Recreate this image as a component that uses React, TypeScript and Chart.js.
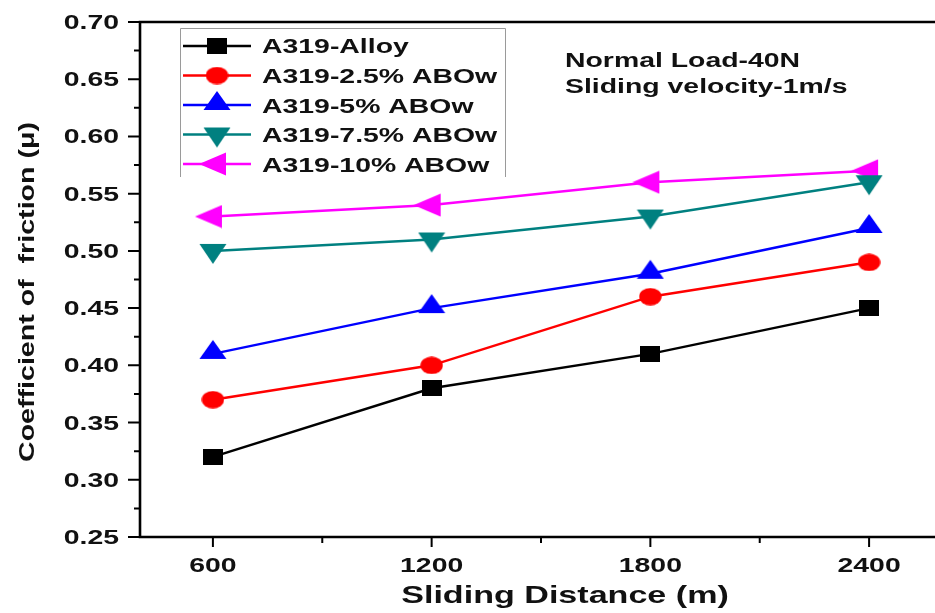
import { useEffect, useRef } from 'react';
import { Chart, registerables } from 'chart.js';

Chart.register(...registerables);

// ---------- data ----------
const DISTANCES = [600, 1200, 1800, 2400];
const SERIES_NAMES = ['A319-Alloy', 'A319-2.5% ABOw', 'A319-5% ABOw', 'A319-7.5% ABOw', 'A319-10% ABOw'];
const ALLOY = [0.32, 0.38, 0.41, 0.45];
const ABOW_2_5 = [0.37, 0.40, 0.46, 0.49];
const ABOW_5 = [0.41, 0.45, 0.48, 0.52];
const ABOW_7_5 = [0.50, 0.51, 0.53, 0.56];
const ABOW_10 = [0.53, 0.54, 0.56, 0.57];
const SERIES_VALUES = [ALLOY, ABOW_2_5, ABOW_5, ABOW_7_5, ABOW_10];
const SERIES_COLORS = ['#000000', '#ff0000', '#0000ff', '#008080', '#ff00ff'];
const SERIES_SHAPES = ['square', 'circle', 'up', 'down', 'left'];

const X_MAJOR = [600, 1200, 1800, 2400];
const X_MINOR = [900, 1500, 2100];
const X_LABELS = ['600', '1200', '1800', '2400'];
const Y_MAJOR = [0.25, 0.30, 0.35, 0.40, 0.45, 0.50, 0.55, 0.60, 0.65, 0.70];
const Y_MINOR = [0.275, 0.325, 0.375, 0.425, 0.475, 0.525, 0.575, 0.625, 0.675];
const Y_LABELS = ['0.25', '0.30', '0.35', '0.40', '0.45', '0.50', '0.55', '0.60', '0.65', '0.70'];

const X_TITLE = 'Sliding Distance (m)';
const Y_TITLE = 'Coefficient of  friction (\u03bc)';
const NOTE_LINES = ['Normal Load-40N', 'Sliding velocity-1m/s'];

// ---------- styling ----------
const FONT = '"Liberation Sans", Arial, Helvetica, sans-serif';
const SX = 1.42; // horizontal stretch of the reference image

function markerCanvas(shape: string, color: string): HTMLCanvasElement {
  const c = document.createElement('canvas');
  let w = 20, h = 16;
  if (shape === 'circle') { w = 23; h = 18; }
  if (shape === 'up') { w = 28; h = 30; }
  if (shape === 'down') { w = 28; h = 28; }
  if (shape === 'left') { w = 38; h = 24; }
  c.width = w; c.height = h;
  const g = c.getContext('2d')!;
  g.fillStyle = color;
  g.beginPath();
  if (shape === 'square') {
    g.rect(0, 0, w, h);
  } else if (shape === 'circle') {
    g.ellipse(w / 2, h / 2, w / 2 - 0.3, h / 2 - 0.3, 0, 0, Math.PI * 2);
  } else if (shape === 'up') {
    g.moveTo(14, 1); g.lineTo(27.5, 20); g.lineTo(0.5, 20); g.closePath();
  } else if (shape === 'down') {
    g.moveTo(0.5, 7); g.lineTo(27.5, 7); g.lineTo(14, 27); g.closePath();
  } else if (shape === 'left') {
    g.moveTo(1, 12); g.lineTo(28, 0.5); g.lineTo(28, 23.5); g.closePath();
  }
  g.fill();
  return c;
}

function stretchedText(ctx: CanvasRenderingContext2D, text: string, x: number, y: number, font: string, align: CanvasTextAlign) {
  ctx.save();
  ctx.translate(x, y);
  ctx.scale(SX, 1);
  ctx.font = font;
  ctx.textAlign = align;
  ctx.textBaseline = 'alphabetic';
  ctx.fillStyle = '#111111';
  ctx.fillText(text, 0, 0);
  ctx.restore();
}

const axesPlugin = {
  id: 'originAxes',
  afterDatasetsDraw(chart: any) {
    const ctx: CanvasRenderingContext2D = chart.ctx;
    const { left, right, top, bottom } = chart.chartArea;
    const xs = chart.scales.x;
    const ys = chart.scales.y;
    ctx.save();
    ctx.strokeStyle = '#000';
    ctx.lineCap = 'butt';
    // frame
    ctx.lineWidth = 2.6;
    ctx.beginPath();
    ctx.moveTo(left, top); ctx.lineTo(left, bottom + 1.3);
    ctx.moveTo(left - 1.3, bottom); ctx.lineTo(right, bottom);
    ctx.moveTo(left - 1.3, top); ctx.lineTo(right, top);
    ctx.stroke();
    // ticks
    ctx.lineWidth = 2;
    ctx.beginPath();
    Y_MAJOR.forEach((v) => { const y = ys.getPixelForValue(v); ctx.moveTo(left - 12, y); ctx.lineTo(left, y); });
    Y_MINOR.forEach((v) => { const y = ys.getPixelForValue(v); ctx.moveTo(left - 6, y); ctx.lineTo(left, y); });
    X_MAJOR.forEach((v) => { const x = xs.getPixelForValue(v); ctx.moveTo(x, bottom); ctx.lineTo(x, bottom + 10); });
    X_MINOR.forEach((v) => { const x = xs.getPixelForValue(v); ctx.moveTo(x, bottom); ctx.lineTo(x, bottom + 6); });
    ctx.stroke();
    ctx.restore();
  },
  afterDraw(chart: any) {
    const ctx: CanvasRenderingContext2D = chart.ctx;
    const { bottom } = chart.chartArea;
    const xs = chart.scales.x;
    const ys = chart.scales.y;
    const tickFont = `bold 20px ${FONT}`;
    Y_MAJOR.forEach((v, i) => stretchedText(ctx, Y_LABELS[i], 119, ys.getPixelForValue(v) + 7, tickFont, 'right'));
    X_MAJOR.forEach((v, i) => stretchedText(ctx, X_LABELS[i], xs.getPixelForValue(v), bottom + 35, tickFont, 'center'));
    // x title
    stretchedText(ctx, X_TITLE, 565, 603, `bold 24px ${FONT}`, 'center');
    // y title (rotated)
    ctx.save();
    ctx.translate(34, 292);
    ctx.rotate(-Math.PI / 2);
    ctx.scale(1.3, 1.0);
    ctx.font = `bold 22px ${FONT}`;
    ctx.textAlign = 'center';
    ctx.textBaseline = 'alphabetic';
    ctx.fillStyle = '#111111';
    ctx.fillText(Y_TITLE, 0, 0);
    ctx.restore();
    // annotation
    NOTE_LINES.forEach((t, i) => stretchedText(ctx, t, 565, 67 + i * 26, `bold 20px ${FONT}`, 'left'));
    // legend
    ctx.save();
    ctx.strokeStyle = '#9a9a9a';
    ctx.lineWidth = 1;
    ctx.beginPath();
    ctx.moveTo(180.5, 177); ctx.lineTo(180.5, 28.5); ctx.lineTo(505.5, 28.5); ctx.lineTo(505.5, 177);
    ctx.stroke();
    ctx.restore();
    const rowY = [46, 75.5, 105, 134.5, 164];
    chart.data.datasets.forEach((ds: any, i: number) => {
      const y = rowY[i];
      ctx.save();
      ctx.strokeStyle = ds.borderColor;
      ctx.lineWidth = 2.5;
      ctx.beginPath();
      ctx.moveTo(183, y); ctx.lineTo(251, y);
      ctx.stroke();
      const img: HTMLCanvasElement = ds.pointStyle;
      ctx.drawImage(img, 217 - img.width / 2, y - img.height / 2);
      ctx.restore();
      stretchedText(ctx, ds.label, 262, [53, 83, 113, 142, 172][i], `bold 20px ${FONT}`, 'left');
    });
  },
};

export default function App() {
  const ref = useRef<HTMLCanvasElement | null>(null);
  useEffect(() => {
    if (!ref.current) return;
    const datasets = SERIES_NAMES.map((name, i) => ({
      label: name,
      data: DISTANCES.map((d, j) => ({ x: d, y: SERIES_VALUES[i][j] })),
      borderColor: SERIES_COLORS[i],
      backgroundColor: SERIES_COLORS[i],
      borderWidth: 2.5,
      pointStyle: markerCanvas(SERIES_SHAPES[i], SERIES_COLORS[i]),
      pointRadius: 10,
      tension: 0,
      clip: false as any,
    }));
    const chart = new Chart(ref.current, {
      type: 'line',
      data: { datasets },
      options: {
        animation: false,
        responsive: false,
        devicePixelRatio: 1,
        layout: { autoPadding: false, padding: { left: 140, top: 22, right: 0, bottom: 76 } },
        plugins: { legend: { display: false }, tooltip: { enabled: false } },
        scales: {
          x: { type: 'linear', min: 400, max: 2600, display: false },
          y: { type: 'linear', min: 0.25, max: 0.70, display: false },
        },
      },
      plugins: [axesPlugin],
    });
    return () => chart.destroy();
  }, []);
  return (
    <div style={{ position: 'absolute', left: 0, top: 0, width: 935, height: 613, overflow: 'hidden', background: '#fff' }}>
      <canvas ref={ref} width={942} height={613} style={{ display: 'block' }} />
    </div>
  );
}
